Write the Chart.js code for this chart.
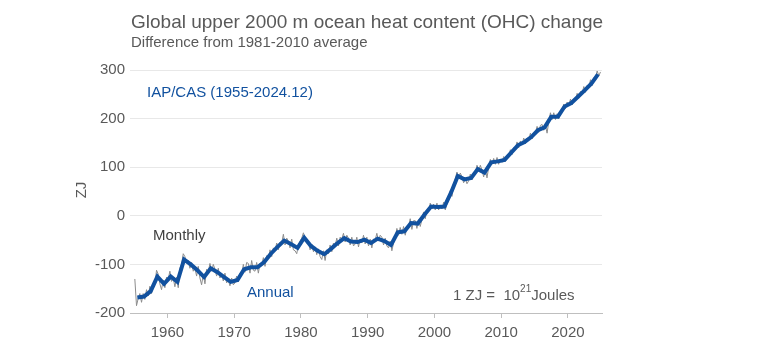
<!doctype html>
<html lang="en">
<head>
  <meta charset="utf-8">
  <title>Global upper 2000 m ocean heat content change</title>
  <script src="https://cdn.jsdelivr.net/npm/chart.js"></script>
  <style>
    html, body { margin: 0; padding: 0; background: #fff; }
    .chart-box { position: relative; width: 762px; height: 350px; }
  </style>
</head>
<body>
  <div class="chart-box"><canvas id="ohcChart"></canvas></div>
  <script>
    // annual means, ZJ, 1955..2024
    const firstYear = 1955;
    const annualOHC = [
      -168, -166, -155, -125, -140, -125, -136, -90, -100, -112,
      -126, -108, -116, -126, -136, -132, -110, -106, -106, -95,
      -78, -64, -51, -58, -66, -45, -62, -72, -79, -68,
      -56, -46, -53, -54, -49, -56, -47, -52, -60, -34,
      -32, -15, -16, 2, 19, 18, 19, 48, 82, 75,
      78, 96, 89, 110, 112, 115, 130, 145, 152, 162,
      176, 182, 204, 204, 225, 232, 245, 258, 272, 291
    ];
    // monthly curve, estimated at quarterly resolution, one row per year
    const monthlyOHC = [
      [-130, -185, -170, -160], [-178, -160, -172, -152], [-165, -145, -160, -140], [-140, -112, -120, -140],
      [-152, -132, -148, -126], [-130, -114, -135, -128], [-146, -126, -148, -108], [-100, -78, -84, -96],
      [-92, -108, -96, -114], [-108, -124, -104, -128], [-142, -120, -140, -110], [-116, -98, -114, -100],
      [-110, -124, -108, -128], [-120, -134, -118, -138], [-132, -144, -128, -142], [-138, -124, -136, -118],
      [-122, -100, -116, -96], [-98, -118, -92, -112], [-114, -96, -118, -98], [-102, -86, -104, -82],
      [-88, -70, -84, -66], [-72, -56, -70, -54], [-56, -38, -60, -46], [-52, -66, -48, -70],
      [-72, -78, -60, -52], [-46, -35, -48, -56], [-54, -70, -58, -74], [-64, -80, -68, -84],
      [-90, -72, -92, -70], [-78, -60, -74, -56], [-62, -46, -62, -44], [-48, -36, -54, -40],
      [-46, -60, -44, -62], [-58, -44, -64, -48], [-56, -40, -58, -44], [-62, -48, -66, -48],
      [-50, -36, -52, -40], [-44, -60, -46, -62], [-66, -52, -72, -56], [-46, -26, -40, -24],
      [-38, -22, -40, -24], [-22, -6, -28, -10], [-10, -26, -8, -22], [-8, 8, -6, 12],
      [10, 26, 14, 24], [12, 26, 12, 22], [14, 28, 12, 24], [32, 52, 40, 64],
      [76, 90, 78, 88], [80, 68, 78, 66], [72, 86, 74, 86], [88, 104, 92, 104],
      [94, 80, 96, 78], [100, 116, 106, 118], [106, 120, 106, 116], [110, 122, 112, 120],
      [122, 136, 126, 140], [138, 152, 140, 154], [146, 160, 148, 160], [156, 170, 158, 170],
      [170, 184, 172, 186], [188, 176, 186, 170], [194, 212, 198, 212], [198, 210, 200, 214],
      [216, 230, 220, 234], [226, 240, 228, 240], [238, 252, 242, 256], [252, 266, 254, 268],
      [264, 280, 268, 284], [284, 298, 288, 296]
    ];
    const yTicks = [-200, -100, 0, 100, 200, 300];
    const xTicks = [1960, 1970, 1980, 1990, 2000, 2010, 2020];

    const FONT = "'Liberation Sans', Arial, sans-serif";
    const GREY_TEXT = '#595959';
    const BLUE = '#11519f';

    const annualPoints = annualOHC.map((v, i) => ({ x: firstYear + i + 0.5, y: v }));
    const monthlyPoints = [];
    monthlyOHC.forEach((row, i) => {
      row.forEach((v, q) => monthlyPoints.push({ x: firstYear + i + (q + 0.5) / row.length, y: v }));
    });

    // titles and in-plot labels
    const labelsPlugin = {
      id: 'labels',
      afterDraw(chart) {
        const ctx = chart.ctx;
        ctx.save();
        ctx.textBaseline = 'alphabetic';
        ctx.textAlign = 'left';
        ctx.fillStyle = GREY_TEXT;
        ctx.font = '19px ' + FONT;
        ctx.fillText('Global upper 2000 m ocean heat content (OHC) change', 131, 28);
        ctx.font = '15px ' + FONT;
        ctx.fillText('Difference from 1981-2010 average', 131, 47);

        ctx.save();
        ctx.translate(86, 190);
        ctx.rotate(-Math.PI / 2);
        ctx.textAlign = 'center';
        ctx.font = '15px ' + FONT;
        ctx.fillText('ZJ', 0, 0);
        ctx.restore();

        ctx.font = '15px ' + FONT;
        ctx.fillStyle = BLUE;
        ctx.fillText('IAP/CAS (1955-2024.12)', 147, 97);
        ctx.fillText('Annual', 247, 297);
        ctx.fillStyle = '#404040';
        ctx.fillText('Monthly', 153, 240);

        ctx.fillStyle = GREY_TEXT;
        let x = 453;
        const part1 = '1 ZJ =  10';
        ctx.fillText(part1, x, 300);
        x += ctx.measureText(part1).width;
        ctx.font = '10px ' + FONT;
        ctx.fillText('21', x, 292);
        x += ctx.measureText('21').width;
        ctx.font = '15px ' + FONT;
        ctx.fillText('Joules', x, 300);
        ctx.restore();
      }
    };

    new Chart(document.getElementById('ohcChart'), {
      type: 'line',
      data: {
        datasets: [
          {
            label: 'Annual',
            data: annualPoints,
            borderColor: BLUE,
            borderWidth: 4,
            pointRadius: 0,
            tension: 0
          },
          {
            label: 'Monthly',
            data: monthlyPoints,
            borderColor: '#8c8c8c',
            borderWidth: 1,
            pointRadius: 0,
            tension: 0
          }
        ]
      },
      options: {
        responsive: true,
        maintainAspectRatio: false,
        animation: false,
        layout: { padding: { top: 70, right: 160, left: 0, bottom: 0 } },
        plugins: { legend: { display: false }, tooltip: { enabled: false } },
        scales: {
          x: {
            type: 'linear',
            min: 1954.4,
            max: 2025.1,
            afterBuildTicks: s => { s.ticks = xTicks.map(v => ({ value: v })); },
            afterFit: s => { s.height = 37; },
            ticks: {
              font: { family: FONT, size: 15 },
              color: GREY_TEXT,
              padding: 6,
              maxRotation: 0,
              callback: v => String(v)
            },
            grid: { drawOnChartArea: false, tickLength: 5, color: '#bfbfbf' },
            border: { color: '#bfbfbf' }
          },
          y: {
            min: -200,
            max: 300,
            afterBuildTicks: s => { s.ticks = yTicks.map(v => ({ value: v })); },
            afterFit: s => { s.width = 130; },
            ticks: {
              font: { family: FONT, size: 15 },
              color: GREY_TEXT,
              padding: 5
            },
            grid: { color: '#e8e8e8', drawTicks: false },
            border: { display: false }
          }
        }
      },
      plugins: [labelsPlugin]
    });
  </script>
</body>
</html>
